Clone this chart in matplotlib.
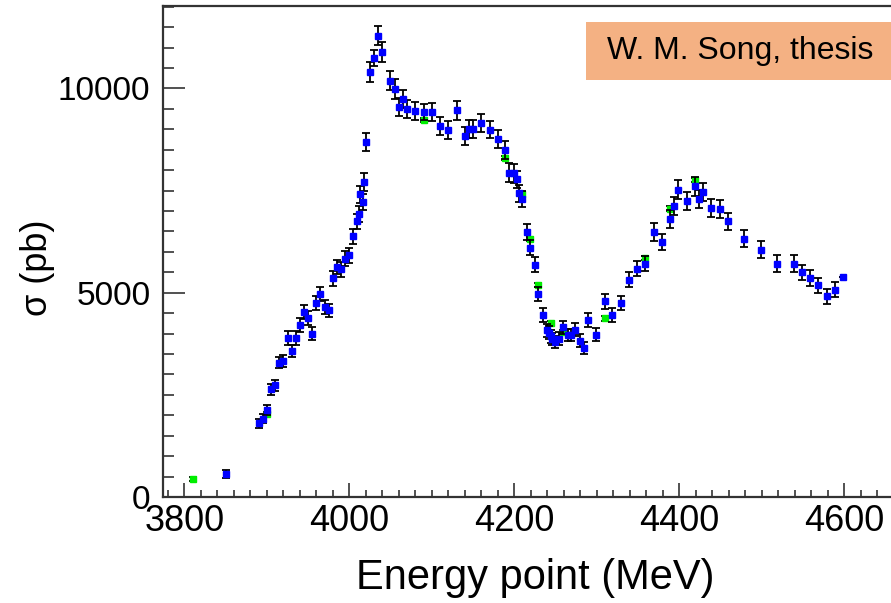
import numpy as np
import matplotlib
matplotlib.use("Agg")
import matplotlib.pyplot as plt
from matplotlib.patches import Rectangle
from matplotlib.ticker import MultipleLocator

plt.rcParams['font.family'] = ['Liberation Sans', 'DejaVu Sans']

# blue data set: energy (MeV), cross section (pb), error (pb)
e_blue = [3850, 3890, 3895, 3900, 3905, 3910, 3915, 3920, 3925, 3930,
          3935, 3940, 3945, 3950, 3955, 3960, 3965, 3970, 3975, 3980,
          3985, 3990, 3995, 4000, 4005, 4009, 4012, 4013, 4016, 4018,
          4020, 4025, 4030, 4035, 4040, 4049, 4055, 4060, 4065, 4070,
          4080, 4090, 4100, 4110, 4120, 4130, 4140, 4145, 4150, 4160,
          4170, 4180, 4189, 4194, 4200, 4203, 4206, 4209, 4215, 4219,
          4225, 4229, 4235, 4240, 4242, 4244, 4246, 4249, 4254, 4259,
          4265, 4269, 4274, 4280, 4285, 4290, 4299, 4310, 4319, 4329,
          4339, 4349, 4359, 4369, 4379, 4389, 4394, 4399, 4409, 4419,
          4424, 4429, 4439, 4449, 4459, 4479, 4499, 4519, 4539, 4549,
          4559, 4569, 4579, 4589, 4599]
xs_blue = [566, 1810, 1914, 2125, 2635, 2730, 3290, 3330, 3890, 3575,
           3890, 4209, 4528, 4385, 3993, 4745, 4978, 4650, 4565, 5356,
           5630, 5570, 5836, 5917, 6378, 6746, 6930, 7408, 7228, 7710,
           8690, 10398, 10752, 11288, 10885, 10185, 9985, 9552, 9736, 9490,
           9454, 9429, 9434, 9071, 8980, 9463, 8833, 9012, 9012, 9145,
           8988, 8764, 8500, 7934, 7919, 7779, 7429, 7290, 6488, 6100,
           5684, 4965, 4446, 4078, 4017, 3939, 3875, 3796, 3875, 4155,
           3968, 3968, 4090, 3830, 3654, 4336, 3973, 4789, 4463, 4748,
           5321, 5591, 5713, 6488, 6243, 6816, 7118, 7518, 7248, 7608,
           7282, 7461, 7076, 7052, 6750, 6326, 6056, 5713, 5713, 5500,
           5360, 5181, 4912, 5076, 5377]
err_blue = [95, 110, 115, 120, 130, 130, 140, 140, 170, 150,
            165, 170, 170, 170, 160, 170, 170, 165, 160, 180,
            180, 180, 180, 180, 190, 190, 200, 200, 200, 210,
            230, 240, 200, 230, 240, 230, 240, 220, 220, 220,
            220, 200, 220, 220, 220, 230, 220, 220, 220, 220,
            210, 210, 220, 230, 230, 210, 200, 200, 190, 180,
            180, 170, 170, 160, 160, 160, 150, 150, 160, 160,
            150, 150, 160, 160, 150, 170, 160, 180, 170, 180,
            190, 190, 190, 210, 200, 220, 220, 230, 220, 230,
            220, 220, 220, 220, 210, 210, 200, 200, 200, 190,
            190, 180, 180, 180, 0]

# green data set
e_green = [3810, 3900, 4090, 4189, 4209.5, 4219, 4229, 4244, 4259, 4310,
           4359, 4389, 4419]
xs_green = [443, 2037, 9225, 8302, 7416, 6312, 5181, 4262, 4042, 4370,
            5860, 7061, 7755]
err_green = [50, 50, 50, 50, 50, 50, 50, 50, 50, 50,
             50, 50, 50]

fig = plt.figure(figsize=(8.91, 6.03), dpi=100)
ax = fig.add_axes([163/891, 106/603, 780/891, 491.5/603])

ax.errorbar(e_green, xs_green, yerr=err_green, fmt='s', color='#00ee00',
            ms=3.8, mec='#00ee00', ecolor='black', elinewidth=1.3,
            capsize=2.8, capthick=1.3, zorder=2)
ax.errorbar(e_blue, xs_blue, yerr=err_blue, fmt='s', color='#0000ff',
            ms=3.8, mec='#0000ff', ecolor='black', elinewidth=1.3,
            capsize=2.8, capthick=1.3, zorder=3)

ax.set_xlim(3774, 4720)
ax.set_ylim(0, 12030)
ax.xaxis.set_major_locator(MultipleLocator(200))
ax.xaxis.set_minor_locator(MultipleLocator(20))
ax.yaxis.set_major_locator(MultipleLocator(5000))
ax.yaxis.set_minor_locator(MultipleLocator(500))

for s in ax.spines.values():
    s.set_color('#333333')
    s.set_linewidth(1.6)
ax.spines['right'].set_visible(False)

ax.tick_params(axis='x', which='major', direction='in', length=10, width=1.2,
               labelsize=26, pad=5, colors='#333333', labelcolor='black')
ax.tick_params(axis='x', which='minor', direction='in', length=5, width=1.2,
               colors='#333333')
ax.tick_params(axis='y', which='major', direction='in', length=16, width=1.2,
               labelsize=24, pad=9, colors='#333333', labelcolor='black')
ax.tick_params(axis='y', which='minor', direction='in', length=8, width=1.2,
               colors='#333333')

ax.set_xlabel('Energy point (MeV)', fontsize=30, va='center')
ax.xaxis.set_label_coords((535-163)/780, -81/491.5)
ax.set_ylabel('σ (pb)', fontsize=26, va='center')
ax.yaxis.set_label_coords((38-163)/780, (497-268)/491.5)

fig.add_artist(Rectangle((586/891, 1-80/603), 308/891, 58.3/603,
                         transform=fig.transFigure, facecolor='#f4b183',
                         edgecolor='none', zorder=5))
fig.text(740/891, 1-51/603, 'W. M. Song, thesis', fontsize=23,
         ha='center', va='center', zorder=6)

fig.savefig('out.png', dpi=100)
